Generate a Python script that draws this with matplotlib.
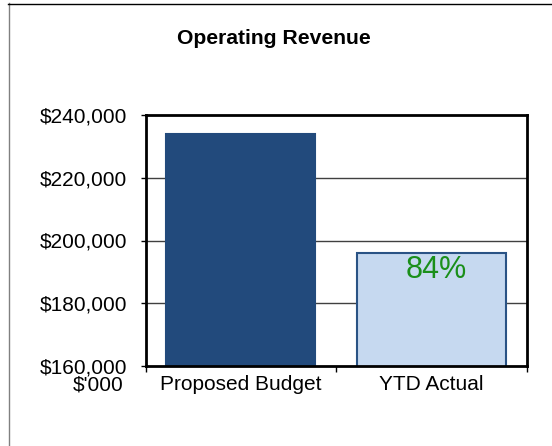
import matplotlib.pyplot as plt
from matplotlib.lines import Line2D
from matplotlib.ticker import FuncFormatter

plt.rcParams['font.family'] = ['Liberation Sans', 'DejaVu Sans']

# Revenue figures ($)
categories = ['Proposed Budget', 'YTD Actual']
revenue = [233800, 195950]
pct_label = '84%'
y_ticks = [160000, 180000, 200000, 220000, 240000]


def main():
    fig = plt.figure(figsize=(5.52, 4.46), dpi=100)
    ax = fig.add_axes([145.5 / 552, 1 - 366 / 446, 381 / 552, 251 / 446])

    bars = ax.bar([0, 1], revenue, width=0.78,
                  color=['#224a7c', '#c6d9f0'],
                  edgecolor=['#224a7c', '#2a5385'], linewidth=1.5, zorder=3)

    ax.set_xlim(-0.5, 1.5)
    ax.set_ylim(y_ticks[0], y_ticks[-1])
    ax.set_yticks(y_ticks)
    ax.yaxis.set_major_formatter(FuncFormatter(lambda v, p: f'${v:,.0f}'))
    ax.tick_params(axis='y', labelsize=15, length=3.6, width=1, pad=9.5)

    # category labels centred under bars, ticks on the boundaries
    ax.set_xticks([-0.5, 0.5, 1.5])
    ax.set_xticklabels([])
    ax.tick_params(axis='x', length=4, width=1)
    for i, name in enumerate(categories):
        ax.text(i, -0.035, name, transform=ax.get_xaxis_transform(),
                ha='center', va='top', fontsize=15)

    for yv in y_ticks[1:-1]:
        ax.axhline(yv, color='#404040', linewidth=1, zorder=1)

    for s in ax.spines.values():
        s.set_linewidth(2)
        s.set_zorder(4)

    # share of budget reached
    b = bars[1]
    ax.text(b.get_x() + b.get_width() / 2 + 0.027, revenue[1] - 500, pct_label,
            ha='center', va='top', fontsize=22, color='#1a8f1a', zorder=5)

    fig.text(124 / 552, 1 - 385 / 446, "$'000", ha='right', va='center',
             fontsize=15)

    fig.text(273.5 / 552, 1 - 39 / 446, 'Operating Revenue', ha='center',
             va='center', fontsize=15.2, fontweight='bold')

    # outer frame (only left and top edges show)
    fig.add_artist(Line2D([8.5 / 552, 8.5 / 552], [0, 1 - 3 / 446],
                          transform=fig.transFigure, color='#808080', lw=1))
    fig.add_artist(Line2D([8 / 552, 1], [1 - 3.5 / 446, 1 - 3.5 / 446],
                          transform=fig.transFigure, color='#000000', lw=1))

    fig.savefig('out.png', dpi=100)


if __name__ == '__main__':
    main()
